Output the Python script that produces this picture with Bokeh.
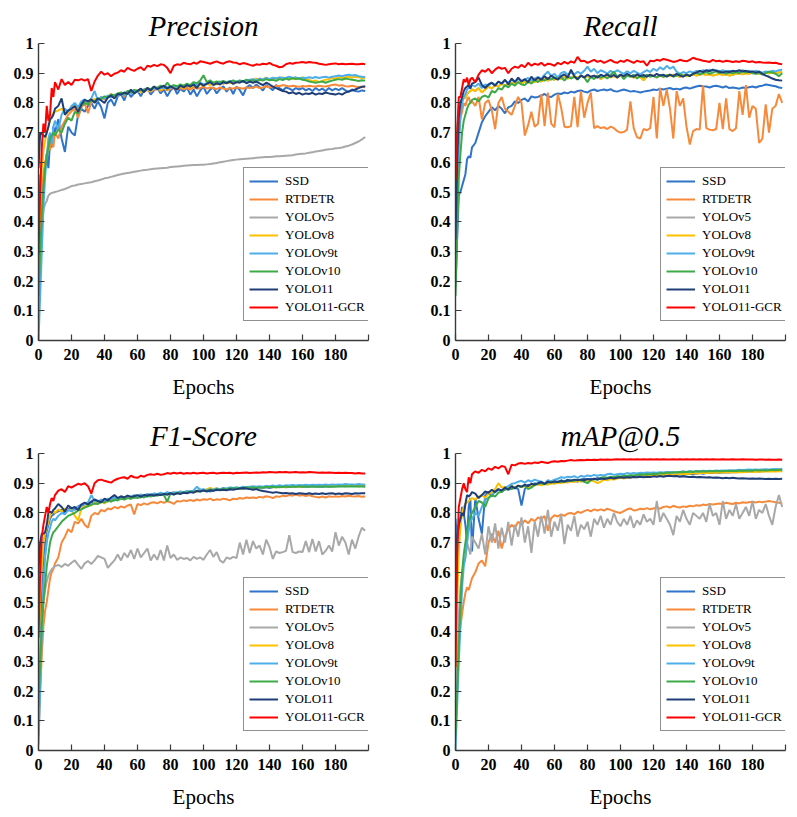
from bokeh.plotting import figure
from bokeh.layouts import column, row
from bokeh.models import Range1d, FixedTicker, Legend, LegendItem
from bokeh.embed import file_html
from bokeh.resources import INLINE

# Epochs sampled every epoch up to 9, then every second epoch
EPOCHS = list(range(0, 10)) + list(range(10, 200, 2))

MODELS = ["SSD", "RTDETR", "YOLOv5", "YOLOv8", "YOLOv9t", "YOLOv10", "YOLO11", "YOLO11-GCR"]
COLORS = ["#2F74C9", "#F7893A", "#A8A8A8", "#FFC000", "#4DAEEA", "#3DAA48", "#1F3E78", "#FF0000"]

X_TICKS = [0, 20, 40, 60, 80, 100, 120, 140, 160, 180, 200]
Y_TICKS = [0, 0.1, 0.2, 0.3, 0.4, 0.5, 0.6, 0.7, 0.8, 0.9, 1]
Y_LABELS = ["0", "0.1", "0.2", "0.3", "0.4", "0.5", "0.6", "0.7", "0.8", "0.9", "1"]

# ---- Precision (per-mille) ----
PREC_SSD = [560, 430, 470, 540, 590, 630, 580, 670, 650, 720,
            700, 745, 680, 635, 720, 700, 690, 760, 780, 770,
            790, 800, 780, 805, 785, 748, 800, 812, 790, 822,
            830, 808, 840, 820, 832, 842, 822, 845, 850, 828,
            842, 852, 832, 845, 822, 842, 853, 830, 848, 838,
            852, 828, 845, 822, 842, 855, 830, 845, 852, 832,
            846, 856, 838, 852, 830, 855, 843, 825, 852, 860,
            850, 862, 853, 842, 860, 852, 843, 860, 850, 842,
            852, 848, 842, 850, 845, 850, 842, 848, 840, 850,
            842, 848, 840, 850, 842, 848, 843, 850, 842, 838,
            845, 840, 838, 842, 840]
PREC_RTDETR = [300, 420, 500, 560, 600, 620, 660, 640, 690, 650,
               700, 680, 720, 740, 760, 772, 780, 750, 785, 800,
               765, 802, 812, 810, 820, 812, 822, 830, 822, 832,
               830, 822, 838, 832, 840, 842, 835, 845, 842, 838,
               845, 848, 840, 848, 842, 848, 850, 845, 850, 846,
               850, 845, 852, 848, 850, 855, 848, 852, 850, 846,
               852, 848, 845, 850, 848, 852, 850, 848, 852, 850,
               852, 855, 850, 852, 856, 852, 854, 858, 856, 860,
               858, 855, 858, 856, 854, 857, 855, 858, 856, 855,
               858, 856, 855, 858, 860, 862, 858, 860, 856, 855,
               858, 855, 853, 855, 853]
PREC_YOLOV5 = [100, 250, 380, 440, 460, 470, 488, 494, 497, 498,
               500, 503, 507, 510, 515, 520, 522, 525, 527, 529,
               531, 533, 536, 539, 542, 546, 548, 551, 554, 557,
               560, 562, 564, 566, 568, 570, 572, 574, 575, 577,
               578, 579, 580, 581, 582, 584, 585, 586, 587, 588,
               589, 590, 591, 591, 592, 592, 593, 594, 596, 598,
               600, 602, 604, 606, 608, 609, 610, 611, 612, 613,
               614, 615, 616, 617, 618, 618, 619, 620, 620, 621,
               622, 623, 624, 626, 628, 629, 630, 632, 634, 636,
               638, 640, 642, 644, 645, 647, 648, 650, 653, 656,
               660, 665, 670, 677, 685]
PREC_YOLOV8 = [200, 450, 580, 640, 670, 700, 720, 740, 755, 765,
               770, 775, 780, 770, 765, 785, 790, 780, 795, 805,
               800, 810, 812, 808, 815, 818, 822, 820, 825, 828,
               832, 828, 835, 838, 832, 840, 836, 842, 845, 840,
               848, 852, 845, 850, 846, 852, 855, 848, 855, 850,
               858, 852, 860, 855, 862, 858, 865, 860, 866, 862,
               868, 864, 870, 866, 872, 868, 874, 870, 876, 872,
               878, 882, 876, 880, 885, 880, 878, 884, 880, 886,
               882, 885, 880, 884, 882, 886, 880, 878, 872, 876,
               870, 874, 878, 880, 884, 882, 886, 884, 886, 888,
               885, 888, 886, 884, 885]
PREC_YOLOV9T = [0, 150, 300, 450, 550, 620, 680, 700, 660, 720,
                740, 710, 760, 780, 770, 790, 800, 785, 805, 812,
                800, 815, 840, 808, 820, 815, 825, 818, 828, 822,
                832, 825, 838, 830, 842, 835, 845, 838, 848, 842,
                850, 845, 852, 848, 855, 850, 858, 852, 860, 855,
                862, 858, 865, 860, 868, 862, 866, 870, 864, 868,
                872, 866, 870, 874, 868, 872, 876, 870, 874, 878,
                880, 876, 882, 878, 884, 880, 885, 882, 886, 884,
                885, 888, 884, 886, 882, 885, 884, 886, 884, 887,
                884, 886, 888, 885, 888, 890, 892, 890, 893, 895,
                892, 894, 890, 888, 886]
PREC_YOLOV10 = [150, 300, 420, 520, 580, 620, 650, 680, 690, 700,
                690, 710, 700, 730, 750, 740, 770, 765, 790, 800,
                795, 810, 805, 815, 812, 822, 818, 828, 825, 832,
                835, 830, 840, 836, 844, 840, 846, 842, 850, 846,
                855, 850, 858, 852, 868, 855, 860, 856, 862, 858,
                865, 860, 870, 866, 875, 893, 870, 876, 868, 872,
                870, 874, 868, 872, 876, 870, 875, 872, 878, 874,
                876, 872, 878, 875, 880, 876, 878, 874, 880, 877,
                882, 878, 884, 880, 882, 878, 876, 872, 870, 868,
                870, 872, 868, 872, 875, 878, 880, 878, 882, 880,
                878, 876, 874, 876, 875]
PREC_YOLO11 = [580, 700, 695, 690, 685, 700, 720, 745, 750, 760,
               780, 790, 815, 760, 775, 780, 790, 770, 795, 810,
               805, 812, 800, 815, 808, 800, 818, 825, 815, 830,
               828, 835, 830, 845, 832, 840, 848, 836, 850, 842,
               855, 846, 852, 858, 848, 856, 850, 845, 858, 852,
               860, 855, 862, 850, 866, 858, 864, 870, 860, 866,
               862, 870, 866, 872, 864, 870, 868, 874, 866, 872,
               868, 872, 866, 860, 868, 862, 855, 850, 845, 840,
               838, 832, 836, 830, 834, 828, 832, 830, 834, 828,
               832, 830, 835, 832, 830, 828, 832, 828, 835, 838,
               842, 845, 850, 854, 856]
PREC_GCR = [290, 500, 650, 730, 700, 790, 740, 760, 850, 820,
            870, 845, 880, 860, 870, 860, 878, 876, 880, 875,
            880, 840, 872, 892, 905, 895, 900, 890, 898, 902,
            910, 905, 918, 912, 908, 915, 920, 910, 925, 922,
            928, 924, 930, 928, 918, 900, 925, 930, 928, 935,
            932, 930, 936, 932, 940, 938, 935, 932, 936, 940,
            935, 932, 938, 940, 936, 935, 930, 934, 932, 928,
            925, 930, 928, 932, 930, 935, 928, 925, 920, 922,
            930, 934, 932, 935, 936, 938, 935, 938, 936, 935,
            932, 930, 928, 930, 932, 933, 930, 932, 930, 931,
            932, 930, 930, 932, 930]

# ---- Recall (per-mille) ----
REC_SSD = [180, 350, 490, 500, 520, 540, 560, 610, 620, 615,
           650, 665, 700, 735, 755, 770, 785, 775, 790, 780,
           765, 785, 790, 805, 800, 810, 815, 805, 822, 818,
           820, 825, 830, 822, 820, 828, 832, 830, 835, 832,
           838, 835, 840, 842, 838, 835, 842, 845, 840, 843,
           845, 842, 846, 840, 838, 842, 845, 842, 838, 840,
           838, 835, 838, 840, 842, 845, 843, 848, 845, 848,
           850, 846, 848, 845, 850, 852, 848, 852, 855, 858,
           856, 855, 852, 856, 858, 855, 852, 856, 850, 852,
           850, 848, 852, 850, 853, 855, 852, 856, 858, 862,
           860, 858, 856, 852, 850]
REC_RTDETR = [340, 600, 700, 750, 770, 800, 790, 810, 820, 800,
              805, 790, 820, 745, 800, 810, 775, 712, 800, 820,
              780, 770, 760, 790, 820, 800, 690, 725, 770, 720,
              730, 830, 722, 835, 730, 718, 830, 785, 720, 718,
              722, 820, 718, 840, 750, 800, 835, 715, 722, 715,
              718, 712, 720, 715, 705, 700, 702, 710, 805, 715,
              685, 680, 712, 708, 715, 820, 680, 850, 790, 845,
              780, 680, 840, 790, 815, 720, 660, 705, 712, 710,
              860, 715, 710, 708, 712, 800, 712, 815, 712, 705,
              715, 840, 760, 860, 750, 790, 780, 665, 680, 795,
              700, 780, 790, 830, 800]
REC_YOLOV5 = [420, 700, 780, 800, 810, 820, 815, 830, 835, 840,
              845, 840, 850, 835, 845, 855, 848, 860, 855, 865,
              858, 860, 868, 862, 870, 865, 872, 868, 874, 870,
              878, 872, 880, 875, 882, 878, 885, 880, 888, 882,
              886, 890, 884, 892, 886, 890, 885, 888, 892, 880,
              888, 892, 886, 890, 885, 892, 888, 894, 890, 885,
              892, 888, 876, 890, 894, 890, 886, 892, 888, 894,
              890, 895, 892, 888, 894, 890, 892, 896, 892, 895,
              898, 894, 896, 892, 895, 898, 894, 896, 892, 895,
              898, 900, 896, 900, 898, 902, 900, 898, 900, 903,
              900, 902, 900, 902, 905]
REC_YOLOV8 = [500, 700, 780, 800, 810, 820, 815, 830, 835, 840,
              845, 840, 850, 835, 845, 855, 848, 860, 855, 865,
              858, 860, 868, 862, 870, 865, 872, 868, 874, 870,
              878, 872, 880, 875, 882, 878, 885, 880, 888, 882,
              886, 890, 884, 892, 886, 890, 885, 888, 892, 880,
              888, 892, 886, 890, 885, 892, 888, 894, 890, 885,
              892, 888, 876, 890, 894, 890, 886, 892, 888, 894,
              890, 895, 892, 888, 894, 890, 892, 896, 892, 895,
              898, 894, 896, 892, 895, 898, 894, 896, 892, 895,
              898, 900, 896, 900, 898, 902, 900, 898, 900, 903,
              900, 902, 900, 902, 905]
REC_YOLOV9T = [200, 450, 650, 750, 800, 820, 830, 845, 850, 858,
               860, 855, 865, 850, 862, 858, 868, 860, 872, 865,
               875, 868, 878, 872, 880, 874, 878, 884, 876, 882,
               888, 880, 895, 905, 890, 898, 885, 900, 905, 895,
               902, 896, 905, 898, 908, 922, 905, 915, 900, 910,
               905, 898, 908, 902, 910, 904, 898, 906, 900, 908,
               902, 896, 904, 910, 904, 915, 908, 920, 912, 925,
               915, 922, 905, 898, 904, 900, 906, 902, 908, 904,
               910, 906, 912, 908, 910, 906, 910, 905, 908, 904,
               908, 905, 910, 906, 908, 904, 908, 905, 902, 906,
               904, 908, 906, 910, 912]
REC_YOLOV10 = [150, 350, 550, 630, 700, 740, 760, 780, 795, 800,
               810, 815, 805, 820, 825, 818, 840, 835, 850, 845,
               860, 852, 865, 858, 870, 862, 860, 872, 865, 878,
               870, 880, 875, 884, 878, 886, 880, 888, 875, 890,
               882, 888, 878, 892, 886, 870, 888, 880, 892, 885,
               890, 882, 895, 905, 888, 895, 880, 892, 888, 895,
               882, 890, 886, 895, 888, 892, 886, 894, 888, 892,
               895, 888, 892, 898, 890, 895, 892, 898, 902, 896,
               900, 904, 898, 902, 906, 900, 904, 898, 902, 900,
               904, 900, 906, 902, 905, 900, 898, 902, 895, 900,
               905, 902, 898, 890, 900]
REC_YOLO11 = [340, 600, 750, 800, 820, 840, 850, 855, 860, 848,
              865, 870, 885, 860, 850, 862, 868, 858, 872, 865,
              878, 862, 882, 870, 885, 872, 880, 870, 888, 876,
              885, 878, 890, 880, 892, 884, 878, 890, 896, 885,
              912, 890, 880, 892, 886, 895, 888, 892, 885, 895,
              890, 896, 888, 894, 886, 895, 890, 898, 892, 888,
              896, 890, 894, 888, 895, 890, 898, 892, 895, 888,
              895, 890, 898, 892, 888, 895, 890, 898, 902, 908,
              904, 910, 906, 912, 908, 905, 902, 906, 904, 908,
              906, 910, 906, 908, 904, 906, 902, 905, 898, 892,
              888, 882, 878, 876, 875]
REC_GCR = [540, 700, 820, 820, 850, 880, 870, 885, 860, 880,
           885, 870, 895, 910, 905, 915, 900, 912, 920, 915,
           918, 900, 915, 922, 918, 928, 920, 935, 925, 932,
           928, 935, 925, 932, 930, 925, 935, 930, 938, 932,
           940, 935, 955, 940, 942, 935, 940, 945, 938, 942,
           935, 940, 945, 938, 935, 942, 938, 945, 940, 935,
           942, 938, 940, 925, 942, 940, 945, 942, 948, 945,
           942, 938, 940, 945, 942, 940, 945, 952, 948, 945,
           942, 940, 938, 945, 940, 942, 938, 942, 940, 938,
           940, 938, 942, 940, 938, 940, 936, 938, 936, 935,
           936, 934, 935, 932, 930]

# ---- F1-Score (per-mille) ----
F1_SSD = [100, 350, 550, 650, 700, 740, 760, 780, 790, 795,
          800, 805, 810, 800, 812, 818, 810, 822, 828, 820,
          832, 836, 830, 840, 835, 842, 838, 845, 842, 848,
          850, 846, 852, 848, 854, 856, 852, 858, 855, 860,
          858, 862, 860, 864, 862, 866, 864, 868, 866, 870,
          868, 872, 870, 874, 878, 874, 876, 872, 878, 876,
          880, 878, 880, 878, 882, 880, 882, 880, 884, 882,
          884, 882, 886, 884, 886, 884, 886, 888, 886, 888,
          886, 888, 890, 888, 890, 888, 890, 888, 890, 889,
          890, 888, 890, 889, 890, 891, 890, 892, 890, 892,
          891, 892, 890, 891, 890]
F1_RTDETR = [50, 200, 320, 420, 470, 500, 540, 580, 600, 610,
             630, 650, 700, 720, 745, 735, 770, 765, 780, 760,
             750, 790, 800, 795, 810, 805, 815, 812, 820, 815,
             822, 818, 825, 828, 795, 830, 826, 832, 828, 834,
             836, 832, 838, 834, 840, 836, 830, 840, 838, 842,
             840, 844, 840, 845, 842, 846, 844, 848, 842, 846,
             844, 848, 846, 842, 848, 846, 850, 848, 852, 850,
             852, 850, 854, 852, 856, 854, 850, 856, 854, 858,
             856, 860, 858, 862, 858, 860, 857, 860, 856, 854,
             852, 855, 852, 856, 854, 856, 854, 857, 855, 858,
             856, 855, 857, 854, 855]
F1_YOLOV5 = [150, 300, 420, 500, 540, 570, 590, 600, 610, 615,
             620, 625, 618, 628, 622, 632, 640, 625, 612, 630,
             638, 628, 640, 655, 650, 645, 615, 628, 640, 660,
             640, 665, 650, 675, 645, 680, 650, 665, 680, 640,
             660, 642, 675, 640, 690, 648, 660, 642, 650, 645,
             648, 640, 652, 645, 650, 642, 660, 675, 652, 668,
             640, 632, 650, 645, 652, 648, 700, 660, 710, 665,
             705, 680, 690, 660, 710, 685, 645, 670, 665, 668,
             672, 725, 668, 665, 670, 668, 705, 668, 712, 670,
             705, 660, 672, 690, 670, 735, 690, 720, 700, 660,
             710, 680, 720, 750, 740]
F1_YOLOV8 = [300, 520, 620, 700, 730, 750, 770, 790, 800, 805,
             800, 812, 805, 815, 808, 812, 790, 775, 815, 822,
             828, 825, 835, 830, 838, 832, 842, 838, 848, 844,
             852, 848, 855, 850, 858, 854, 860, 856, 862, 858,
             864, 860, 866, 862, 868, 864, 870, 866, 872, 868,
             872, 870, 875, 872, 878, 876, 880, 884, 880, 883,
             878, 882, 880, 884, 882, 880, 884, 882, 886, 884,
             886, 884, 888, 885, 888, 886, 888, 885, 888, 886,
             889, 887, 890, 888, 890, 888, 891, 889, 891, 890,
             892, 890, 892, 891, 893, 892, 894, 892, 894, 893,
             895, 894, 895, 894, 895]
F1_YOLOV9T = [20, 200, 400, 560, 650, 700, 730, 750, 770, 780,
              775, 790, 800, 795, 810, 805, 815, 820, 825, 830,
              835, 860, 840, 838, 845, 840, 848, 845, 852, 848,
              855, 850, 858, 854, 860, 856, 862, 858, 864, 860,
              866, 862, 868, 864, 870, 866, 870, 868, 872, 870,
              874, 872, 876, 888, 878, 880, 876, 880, 878, 882,
              880, 884, 882, 886, 884, 886, 884, 888, 886, 888,
              890, 888, 890, 888, 891, 890, 892, 890, 893, 891,
              893, 892, 894, 892, 894, 893, 895, 893, 895, 894,
              895, 894, 896, 894, 896, 895, 896, 895, 897, 896,
              896, 895, 897, 896, 895]
F1_YOLOV10 = [150, 300, 420, 500, 560, 620, 660, 700, 720, 735,
              740, 755, 770, 780, 790, 795, 800, 808, 812, 818,
              822, 828, 832, 830, 838, 835, 842, 838, 845, 842,
              848, 845, 850, 848, 852, 850, 855, 852, 858, 855,
              860, 858, 862, 860, 838, 866, 862, 868, 865, 870,
              868, 872, 870, 874, 872, 876, 874, 878, 876, 880,
              878, 882, 880, 882, 884, 882, 884, 882, 886, 884,
              886, 884, 886, 885, 888, 886, 888, 886, 888, 887,
              889, 887, 889, 888, 890, 888, 889, 888, 890, 888,
              889, 888, 890, 888, 889, 888, 890, 889, 890, 889,
              890, 889, 890, 889, 888]
F1_YOLO11 = [600, 700, 730, 730, 735, 760, 800, 805, 800, 810,
             815, 830, 820, 805, 825, 815, 820, 810, 828, 835,
             828, 838, 845, 840, 836, 848, 842, 852, 860, 850,
             856, 852, 858, 854, 856, 860, 855, 860, 858, 862,
             858, 862, 860, 864, 862, 866, 862, 866, 864, 868,
             866, 870, 868, 874, 872, 876, 872, 876, 874, 878,
             876, 878, 876, 880, 878, 880, 882, 884, 882, 880,
             878, 880, 876, 874, 872, 870, 868, 870, 868, 866,
             867, 865, 866, 864, 866, 865, 864, 866, 864, 865,
             864, 866, 864, 865, 866, 864, 865, 864, 866, 865,
             864, 866, 865, 866, 866]
F1_GCR = [380, 600, 720, 760, 790, 820, 800, 830, 850, 840,
          860, 875, 880, 870, 890, 885, 892, 898, 895, 900,
          890, 865, 900, 910, 912, 908, 905, 902, 910, 915,
          918, 920, 915, 925, 920, 918, 925, 922, 928, 930,
          928, 932, 928, 930, 934, 932, 935, 933, 935, 932,
          934, 933, 935, 933, 934, 935, 933, 934, 935, 933,
          934, 935, 934, 935, 933, 935, 934, 935, 936, 934,
          935, 936, 935, 937, 936, 938, 937, 936, 938, 937,
          938, 936, 937, 938, 936, 937, 936, 938, 937, 936,
          935, 936, 935, 936, 935, 934, 935, 934, 935, 934,
          934, 933, 934, 933, 933]

# ---- mAP@0.5 (per-mille) ----
MAP_SSD = [780, 700, 740, 780, 820, 800, 760, 700, 820, 850,
           670, 850, 780, 730, 860, 870, 855, 875, 880, 870,
           885, 878, 890, 885, 880, 825, 880, 895, 890, 900,
           895, 905, 898, 905, 900, 908, 902, 910, 905, 912,
           908, 910, 905, 912, 915, 910, 915, 912, 918, 915,
           918, 915, 920, 918, 920, 922, 918, 922, 920, 924,
           922, 925, 922, 924, 926, 924, 926, 925, 928, 926,
           928, 926, 928, 930, 928, 930, 932, 930, 932, 934,
           932, 934, 935, 934, 936, 935, 936, 937, 936, 938,
           937, 938, 939, 938, 940, 939, 940, 941, 940, 941,
           942, 941, 942, 941, 942]
MAP_RTDETR = [50, 300, 380, 420, 460, 500, 530, 550, 540, 560,
              580, 600, 630, 640, 620, 700, 730, 700, 740, 680,
              720, 745, 760, 750, 770, 760, 775, 765, 780, 772,
              785, 778, 790, 740, 782, 792, 788, 795, 790, 798,
              800, 795, 804, 800, 806, 810, 805, 812, 808, 812,
              808, 814, 810, 806, 802, 800, 806, 812, 815, 808,
              810, 814, 812, 816, 812, 815, 818, 814, 820, 822,
              818, 824, 820, 818, 822, 820, 824, 822, 826, 824,
              828, 826, 830, 828, 830, 832, 830, 834, 832, 830,
              834, 832, 836, 834, 836, 838, 835, 838, 836, 838,
              840, 838, 836, 834, 832]
MAP_YOLOV5 = [100, 300, 450, 550, 600, 630, 650, 700, 680, 660,
              720, 700, 680, 730, 660, 755, 700, 765, 680, 750,
              700, 770, 690, 760, 720, 785, 700, 755, 665, 770,
              720, 790, 730, 810, 720, 770, 740, 795, 695, 760,
              740, 790, 720, 760, 745, 770, 720, 780, 760, 790,
              750, 780, 760, 800, 770, 755, 780, 760, 790, 750,
              775, 760, 795, 770, 780, 760, 840, 770, 800, 780,
              760, 725, 790, 770, 810, 780, 760, 800, 790, 780,
              800, 770, 830, 790, 800, 760, 840, 780, 810, 790,
              830, 780, 800, 820, 790, 840, 780, 810, 800, 830,
              790, 760, 820, 860, 820]
MAP_YOLOV8 = [280, 500, 680, 750, 800, 820, 830, 835, 840, 845,
              850, 845, 855, 860, 850, 865, 868, 880, 900, 885,
              888, 882, 890, 886, 892, 888, 890, 886, 894, 892,
              896, 893, 898, 895, 900, 898, 902, 900, 904, 902,
              906, 904, 908, 905, 910, 908, 910, 906, 900, 905,
              912, 910, 914, 912, 916, 918, 916, 920, 918, 922,
              920, 924, 922, 925, 924, 926, 928, 926, 928, 930,
              930, 928, 931, 930, 932, 931, 932, 934, 932, 934,
              935, 934, 935, 936, 935, 936, 937, 936, 937, 938,
              937, 938, 937, 938, 939, 938, 939, 938, 939, 940,
              939, 940, 939, 940, 940]
MAP_YOLOV9T = [0, 150, 300, 420, 550, 620, 650, 700, 740, 770,
               780, 800, 790, 820, 845, 850, 860, 870, 878, 875,
               885, 890, 898, 900, 905, 908, 902, 910, 905, 912,
               908, 905, 898, 910, 906, 912, 915, 920, 918, 922,
               920, 924, 918, 925, 922, 926, 924, 928, 925, 928,
               926, 930, 932, 928, 930, 932, 930, 934, 932, 934,
               933, 935, 934, 936, 935, 936, 935, 937, 936, 938,
               937, 938, 936, 938, 940, 938, 940, 939, 941, 940,
               942, 941, 942, 941, 943, 942, 943, 942, 944, 943,
               944, 945, 944, 945, 946, 945, 946, 945, 946, 947,
               946, 947, 948, 947, 948]
MAP_YOLOV10 = [50, 200, 350, 500, 600, 660, 700, 740, 770, 790,
               800, 820, 840, 835, 820, 850, 860, 855, 868, 872,
               878, 882, 880, 886, 890, 888, 892, 880, 885, 895,
               898, 900, 896, 902, 905, 902, 906, 904, 908, 906,
               910, 908, 912, 910, 905, 900, 910, 915, 912, 918,
               920, 918, 922, 920, 924, 922, 925, 924, 927, 926,
               928, 930, 928, 931, 930, 932, 931, 934, 933, 935,
               936, 935, 937, 938, 937, 938, 939, 938, 940, 939,
               940, 939, 940, 941, 940, 941, 940, 942, 941, 942,
               941, 942, 943, 942, 943, 942, 944, 943, 944, 943,
               944, 945, 944, 945, 945]
MAP_YOLO11 = [620, 720, 760, 780, 800, 790, 830, 860, 855, 860,
              870, 865, 850, 860, 872, 868, 878, 870, 880, 875,
              885, 878, 890, 882, 892, 888, 895, 890, 898, 895,
              900, 904, 898, 905, 902, 906, 904, 908, 905, 910,
              908, 912, 910, 912, 910, 914, 912, 915, 912, 916,
              914, 916, 918, 916, 918, 920, 918, 920, 919, 921,
              920, 922, 920, 922, 921, 923, 922, 924, 922, 924,
              925, 923, 924, 922, 923, 922, 921, 922, 920, 921,
              920, 919, 920, 918, 919, 918, 917, 918, 917, 918,
              917, 916, 917, 916, 915, 916, 915, 916, 915, 914,
              915, 914, 915, 914, 915]
MAP_GCR = [280, 650, 820, 850, 880, 900, 880, 870, 920, 900,
           930, 940, 935, 945, 940, 950, 945, 955, 950, 958,
           955, 930, 962, 960, 966, 968, 965, 968, 966, 970,
           968, 972, 970, 968, 972, 974, 972, 975, 974, 976,
           978, 976, 977, 978, 977, 979, 978, 979, 978, 980,
           979, 980, 979, 980, 981, 980, 981, 980, 981, 980,
           981, 980, 981, 980, 981, 980, 981, 980, 981, 980,
           980, 981, 980, 981, 980, 981, 980, 981, 980, 981,
           980, 981, 980, 981, 980, 980, 981, 980, 980, 981,
           980, 980, 981, 980, 980, 980, 979, 980, 980, 979,
           980, 979, 979, 980, 979]

PANELS = [
    ("Precision", [PREC_SSD, PREC_RTDETR, PREC_YOLOV5, PREC_YOLOV8,
                   PREC_YOLOV9T, PREC_YOLOV10, PREC_YOLO11, PREC_GCR]),
    ("Recall", [REC_SSD, REC_RTDETR, REC_YOLOV5, REC_YOLOV8,
                REC_YOLOV9T, REC_YOLOV10, REC_YOLO11, REC_GCR]),
    ("F1-Score", [F1_SSD, F1_RTDETR, F1_YOLOV5, F1_YOLOV8,
                  F1_YOLOV9T, F1_YOLOV10, F1_YOLO11, F1_GCR]),
    ("mAP@0.5", [MAP_SSD, MAP_RTDETR, MAP_YOLOV5, MAP_YOLOV8,
                 MAP_YOLOV9T, MAP_YOLOV10, MAP_YOLO11, MAP_GCR]),
]

SERIF = "Liberation Serif"
AXIS_COLOR = "#3a3a3a"


def make_panel(title, series, left, right, height, bottom):
    p = figure(width=left + 330 + right, height=height,
               x_range=Range1d(0, 200), y_range=Range1d(0, 1),
               output_backend="svg", toolbar_location=None,
               min_border_left=left, min_border_right=right,
               min_border_top=43, min_border_bottom=bottom,
               outline_line_color=None, title=title)
    p.title.align = "center"
    p.title.text_font = SERIF
    p.title.text_font_style = "italic"
    p.title.text_font_size = "29px"
    p.title.text_color = "black"
    p.title.offset = 0
    p.title.standoff = 4

    p.xgrid.visible = False
    p.ygrid.visible = False

    for ax in (p.xaxis[0], p.yaxis[0]):
        ax.axis_line_color = AXIS_COLOR
        ax.axis_line_width = 1.4
        ax.major_tick_line_color = AXIS_COLOR
        ax.major_tick_line_width = 1.2
        ax.major_tick_in = 6
        ax.major_tick_out = 0
        ax.minor_tick_line_color = None
        ax.major_label_text_font = SERIF
        ax.major_label_text_font_style = "bold"
        ax.major_label_text_font_size = "16px"
        ax.major_label_text_color = "black"

    xa = p.xaxis[0]
    xa.ticker = FixedTicker(ticks=X_TICKS)
    xa.major_label_overrides = {200: ""}
    xa.major_label_standoff = 8
    xa.axis_label = "Epochs"
    xa.axis_label_text_font = SERIF
    xa.axis_label_text_font_style = "normal"
    xa.axis_label_text_font_size = "21px"
    xa.axis_label_text_color = "black"
    xa.axis_label_standoff = 12

    ya = p.yaxis[0]
    ya.ticker = FixedTicker(ticks=Y_TICKS)
    ya.major_label_overrides = dict(zip(Y_TICKS, Y_LABELS))
    ya.major_label_standoff = 5

    items = []
    for name, color, vals in zip(MODELS, COLORS, series):
        assert len(vals) == len(EPOCHS), (title, name, len(vals))
        ys = [v / 1000 for v in vals]
        r = p.line(EPOCHS, ys, line_color=color, line_width=2)
        items.append(LegendItem(label=name, renderers=[r]))

    legend = Legend(items=items, location=(205, 19))
    legend.label_text_font = SERIF
    legend.label_text_font_size = "13px"
    legend.label_text_color = "black"
    legend.glyph_width = 29
    legend.glyph_height = 14
    legend.label_height = 14
    legend.label_standoff = 7
    legend.spacing = 2
    legend.padding = 5
    legend.margin = 0
    legend.border_line_color = "#222222"
    legend.border_line_width = 1
    legend.background_fill_color = "white"
    legend.background_fill_alpha = 1
    p.add_layout(legend)
    return p


p1 = make_panel(PANELS[0][0], PANELS[0][1], 38, 32, 410, 70)
p2 = make_panel(PANELS[1][0], PANELS[1][1], 55, 12, 410, 70)
p3 = make_panel(PANELS[2][0], PANELS[2][1], 38, 32, 407, 67)
p4 = make_panel(PANELS[3][0], PANELS[3][1], 55, 12, 407, 67)

layout = column(row(p1, p2), row(p3, p4))

with open("out.html", "w") as f:
    f.write(file_html(layout, INLINE))
